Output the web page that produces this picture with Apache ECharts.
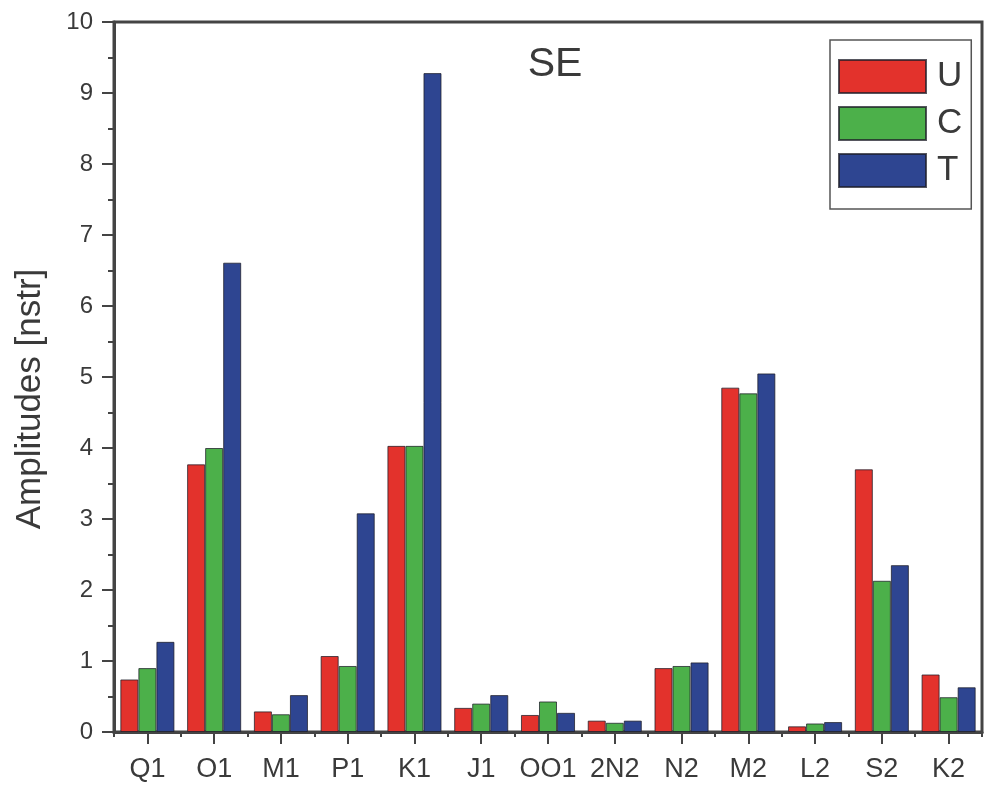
<!DOCTYPE html>
<html>
<head>
<meta charset="utf-8">
<script src="https://cdn.jsdelivr.net/npm/echarts@6/dist/echarts.min.js"></script>
<style>
html,body{margin:0;padding:0;background:#fff;}
#chart{width:985px;height:791px;}
</style>
</head>
<body>
<div id="chart"></div>
<script>
const categories = ['Q1','O1','M1','P1','K1','J1','OO1','2N2','N2','M2','L2','S2','K2'];
const seriesU = [0.74, 3.77, 0.29, 1.07, 4.03, 0.34, 0.24, 0.16, 0.90, 4.85, 0.08, 3.70, 0.81];
const seriesC = [0.90, 4.00, 0.25, 0.93, 4.03, 0.40, 0.43, 0.13, 0.93, 4.77, 0.12, 2.13, 0.49];
const seriesT = [1.27, 6.61, 0.52, 3.08, 9.28, 0.52, 0.27, 0.16, 0.98, 5.05, 0.14, 2.35, 0.63];
const yTicks = [0,1,2,3,4,5,6,7,8,9,10];

const FONT = 'Liberation Sans, Arial, sans-serif';
const AX = '#444';
const TXT = '#3a3a3a';
const chart = echarts.init(document.getElementById('chart'), null, {renderer:'canvas'});

function barSeries(name, data, color){
  return {
    name: name, type: 'bar', data: data, xAxisIndex: 0, yAxisIndex: 0,
    barGap: '0%', barCategoryGap: '19%',
    itemStyle: {color: color, borderColor: 'rgba(30,30,40,0.75)', borderWidth: 1},
    emphasis: {disabled: true}
  };
}

chart.setOption({
  animation: false,
  backgroundColor: '#fff',
  title: {
    text: 'SE', left: 550, top: 39, textAlign: 'center',
    textStyle: {fontFamily: FONT, fontSize: 41, fontWeight: 'normal', color: TXT}
  },
  legend: {
    orient: 'vertical', left: 830, top: 40,
    itemWidth: 87, itemHeight: 33, itemGap: 12,
    padding: [19, 9, 21, 8],
    borderColor: '#555', borderWidth: 1.5, backgroundColor: '#fff',
    icon: 'rect',
    textStyle: {fontFamily: FONT, fontSize: 35, lineHeight: 33, color: TXT, padding: [0,0,0,6]},
    data: ['U','C','T']
  },
  grid: {
    left: 114, top: 22, right: 3, bottom: 59,
    show: true, borderColor: AX, borderWidth: 3, backgroundColor: 'transparent'
  },
  xAxis: [
    {
      type: 'category', data: categories, position: 'bottom',
      boundaryGap: true,
      axisLine: {show: true, lineStyle: {color: AX, width: 3}},
      axisTick: {show: true, alignWithLabel: true, length: 12, lineStyle: {color: AX, width: 2}},
      axisLabel: {interval: 0, hideOverlap: false, fontFamily: FONT, fontSize: 27, color: TXT, margin: 24},
      splitLine: {show: false}
    },
    {
      type: 'category', data: categories, position: 'bottom',
      boundaryGap: true,
      axisLine: {show: false},
      axisTick: {show: true, interval: 0, alignWithLabel: false, length: 5, lineStyle: {color: AX, width: 2}},
      axisLabel: {show: false},
      splitLine: {show: false}
    }
  ],
  yAxis: [{
    type: 'value', min: yTicks[0], max: yTicks[yTicks.length-1], interval: 1,
    name: 'Amplitudes [nstr]', nameLocation: 'middle', nameGap: 66, nameRotate: 90,
    nameTextStyle: {fontFamily: FONT, fontSize: 35, color: TXT, padding: [0, 44, 0, 0]},
    axisLine: {show: true, lineStyle: {color: AX, width: 3}},
    axisTick: {show: true, length: 12, lineStyle: {color: AX, width: 2}},
    minorTick: {show: true, splitNumber: 2, length: 6, lineStyle: {color: AX, width: 2}},
    axisLabel: {fontFamily: FONT, fontSize: 24, color: TXT, margin: 21},
    splitLine: {show: false}
  }],
  series: [
    barSeries('U', seriesU, '#e3322c'),
    barSeries('C', seriesC, '#4cb04a'),
    barSeries('T', seriesT, '#2e4591')
  ]
});
</script>
</body>
</html>
